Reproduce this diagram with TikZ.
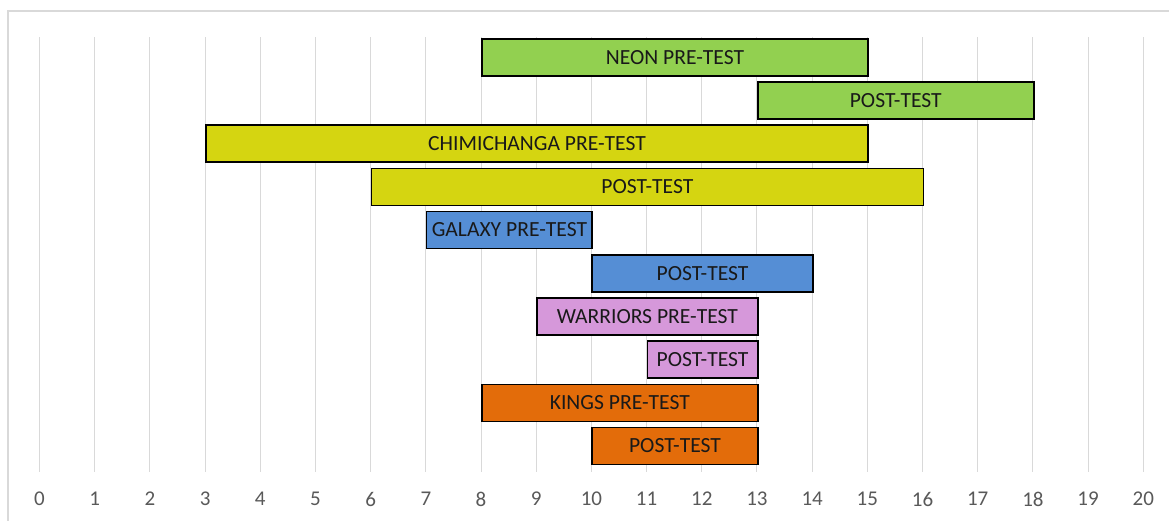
\documentclass[tikz,border=0pt]{standalone}
\usepackage{fontspec}
\setmainfont{Carlito}
\definecolor{gridc}{HTML}{D9D9D9}
\definecolor{labc}{HTML}{595959}
\definecolor{cgreen}{HTML}{92D050}
\definecolor{cyellow}{HTML}{D5D511}
\definecolor{cblue}{HTML}{558ED5}
\definecolor{cpink}{HTML}{D698DA}
\definecolor{corange}{HTML}{E36C0A}
\begin{document}
\begin{tikzpicture}[x=1pt,y=-1pt,
  barbox/.style={draw=black,line width=1.6pt,minimum height=37pt,inner sep=0pt,anchor=west,
    font=\fontsize{21.6}{23}\selectfont,text=black!90},
  gridline/.style={draw=gridc,line width=1pt},
  ticklab/.style={font=\fontsize{21}{23}\selectfont,text=labc}]
\useasboundingbox (0,0) rectangle (1169,520);
\fill[white] (0,0) rectangle (1169,520);
\draw[draw=gridc,line width=2pt] (8,11) rectangle (1180,540);
\foreach \i in {0,...,20}{
  \draw[gridline] (39.5+\i*55.19,37) -- (39.5+\i*55.19,472);
  \node[ticklab] (t\i) at (39.5+\i*55.19,499) {\i};
}
\foreach \r/\s/\e/\c/\t in {
  0/8/15/cgreen/NEON PRE-TEST,
  1/13/18/cgreen/POST-TEST,
  2/3/15/cyellow/CHIMICHANGA PRE-TEST,
  3/6/16/cyellow/POST-TEST,
  4/7/10/cblue/GALAXY PRE-TEST,
  5/10/14/cblue/POST-TEST,
  6/9/13/cpink/WARRIORS PRE-TEST,
  7/11/13/cpink/POST-TEST,
  8/8/13/corange/KINGS PRE-TEST,
  9/10/13/corange/POST-TEST}{
  \node[barbox,fill=\c,minimum width={(\e-\s)*55.19pt}] (b\r) at (39.5+\s*55.19,57.2+\r*43.2) {\t};
}
\end{tikzpicture}
\end{document}
